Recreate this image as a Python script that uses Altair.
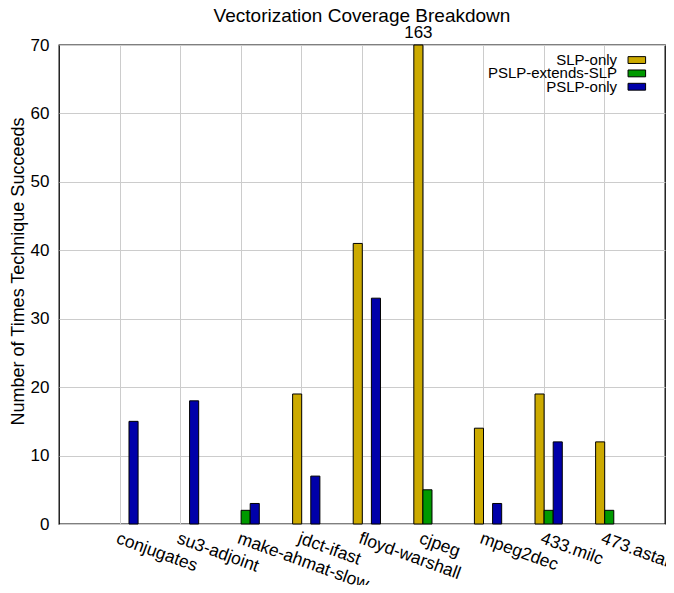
import json
import altair as alt
import pandas as pd

benchmarks = ["conjugates", "su3-adjoint", "make-ahmat-slow", "jdct-ifast",
              "floyd-warshall", "cjpeg", "mpeg2dec", "433.milc", "473.astar"]
series = ["SLP-only", "PSLP-extends-SLP", "PSLP-only"]
slp_only = [0, 0, 0, 19, 41, 163, 14, 19, 12]
pslp_extends_slp = [0, 0, 2, 0, 0, 5, 0, 2, 2]
pslp_only = [15, 18, 3, 7, 33, 0, 3, 12, 0]
colors = ["#ccaa00", "#009900", "#0000aa"]
y_max = 70
FONT = "Liberation Sans"

rows = []
for k, (s, vals) in enumerate(zip(series, [slp_only, pslp_extends_slp, pslp_only])):
    for i, (b, v) in enumerate(zip(benchmarks, vals)):
        rows.append({"benchmark": b, "idx": i, "series": s, "k": k, "value": v})
df = pd.DataFrame(rows)
legend_df = pd.DataFrame({"series": series, "k": list(range(len(series)))})

label_expr = json.dumps(benchmarks) + "[datum.value]"

xscale = alt.Scale(domain=[-1, 9], nice=False, zero=False)
yscale = alt.Scale(domain=[0, y_max], nice=False)
cscale = alt.Scale(domain=series, range=colors)

base = alt.Chart(df).transform_filter("datum.value > 0").transform_calculate(
    center="datum.idx - 0.07 + 0.15 * datum.k",
    xa="datum.idx - 0.145 + 0.15 * datum.k",
    xb="datum.idx + 0.005 + 0.15 * datum.k",
    vclip=f"min(datum.value, {y_max})",
)

bars = base.mark_bar(stroke="black", strokeWidth=1).encode(
    x=alt.X("xa:Q", scale=xscale,
            axis=alt.Axis(values=list(range(len(benchmarks))), labelExpr=label_expr,
                          labelAngle=20, labelAlign="left", labelBaseline="top",
                          labelOverlap=False, grid=True, ticks=False, domain=False,
                          title=None, labelPadding=5, labelFontSize=17.5)),
    x2="xb:Q",
    y=alt.Y("vclip:Q", scale=yscale,
            axis=alt.Axis(values=list(range(0, y_max + 1, 10)),
                          title="Number of Times Technique Succeeds",
                          grid=True, ticks=False, domain=False,
                          labelPadding=10, labelFontSize=17, titleFontSize=18,
                          titleFontWeight="normal", titlePadding=3, titleY=226)),
    y2=alt.datum(0),
    color=alt.Color("series:N", scale=cscale, legend=None),
)

labels = base.transform_filter(f"datum.value > {y_max}").mark_text(
    baseline="bottom", dy=-3, fontSize=17, font=FONT, color="black"
).encode(
    x=alt.X("center:Q", scale=xscale),
    y=alt.Y("vclip:Q", scale=yscale),
    text="value:Q",
)

# legend (inside top-right corner): label text right-aligned, swatch to its right
leg = alt.Chart(legend_df).transform_calculate(
    ly="67.8 - 1.95 * datum.k",
    ly1="67.8 - 1.95 * datum.k - 0.5",
    ly2="67.8 - 1.95 * datum.k + 0.5",
    tx="8.21", sx1="8.39", sx2="8.68",
)
leg_swatch = leg.mark_rect(stroke="black", strokeWidth=1).encode(
    x=alt.X("sx1:Q", scale=xscale), x2="sx2:Q",
    y=alt.Y("ly1:Q", scale=yscale), y2="ly2:Q",
    color=alt.Color("series:N", scale=cscale, legend=None),
)
leg_text = leg.mark_text(align="right", baseline="middle", fontSize=15,
                         font=FONT, color="black").encode(
    x=alt.X("tx:Q", scale=xscale),
    y=alt.Y("ly:Q", scale=yscale),
    text="series:N",
)

chart = alt.layer(bars, labels, leg_swatch, leg_text).properties(
    width=606, height=479,
    padding={"left": 51, "top": 37, "right": 1, "bottom": 61},
    autosize="none",
    title=alt.TitleParams("Vectorization Coverage Breakdown", fontSize=19,
                          fontWeight="normal", font=FONT, offset=0, dy=2,
                          anchor="middle", color="black"),
).configure_view(stroke="black", strokeWidth=1.3).configure_axis(
    labelFont=FONT, titleFont=FONT, labelColor="black", titleColor="black",
    gridColor="#cccccc", gridWidth=1
)

chart.save("out.html", embed_options={"renderer": "svg", "actions": False})
